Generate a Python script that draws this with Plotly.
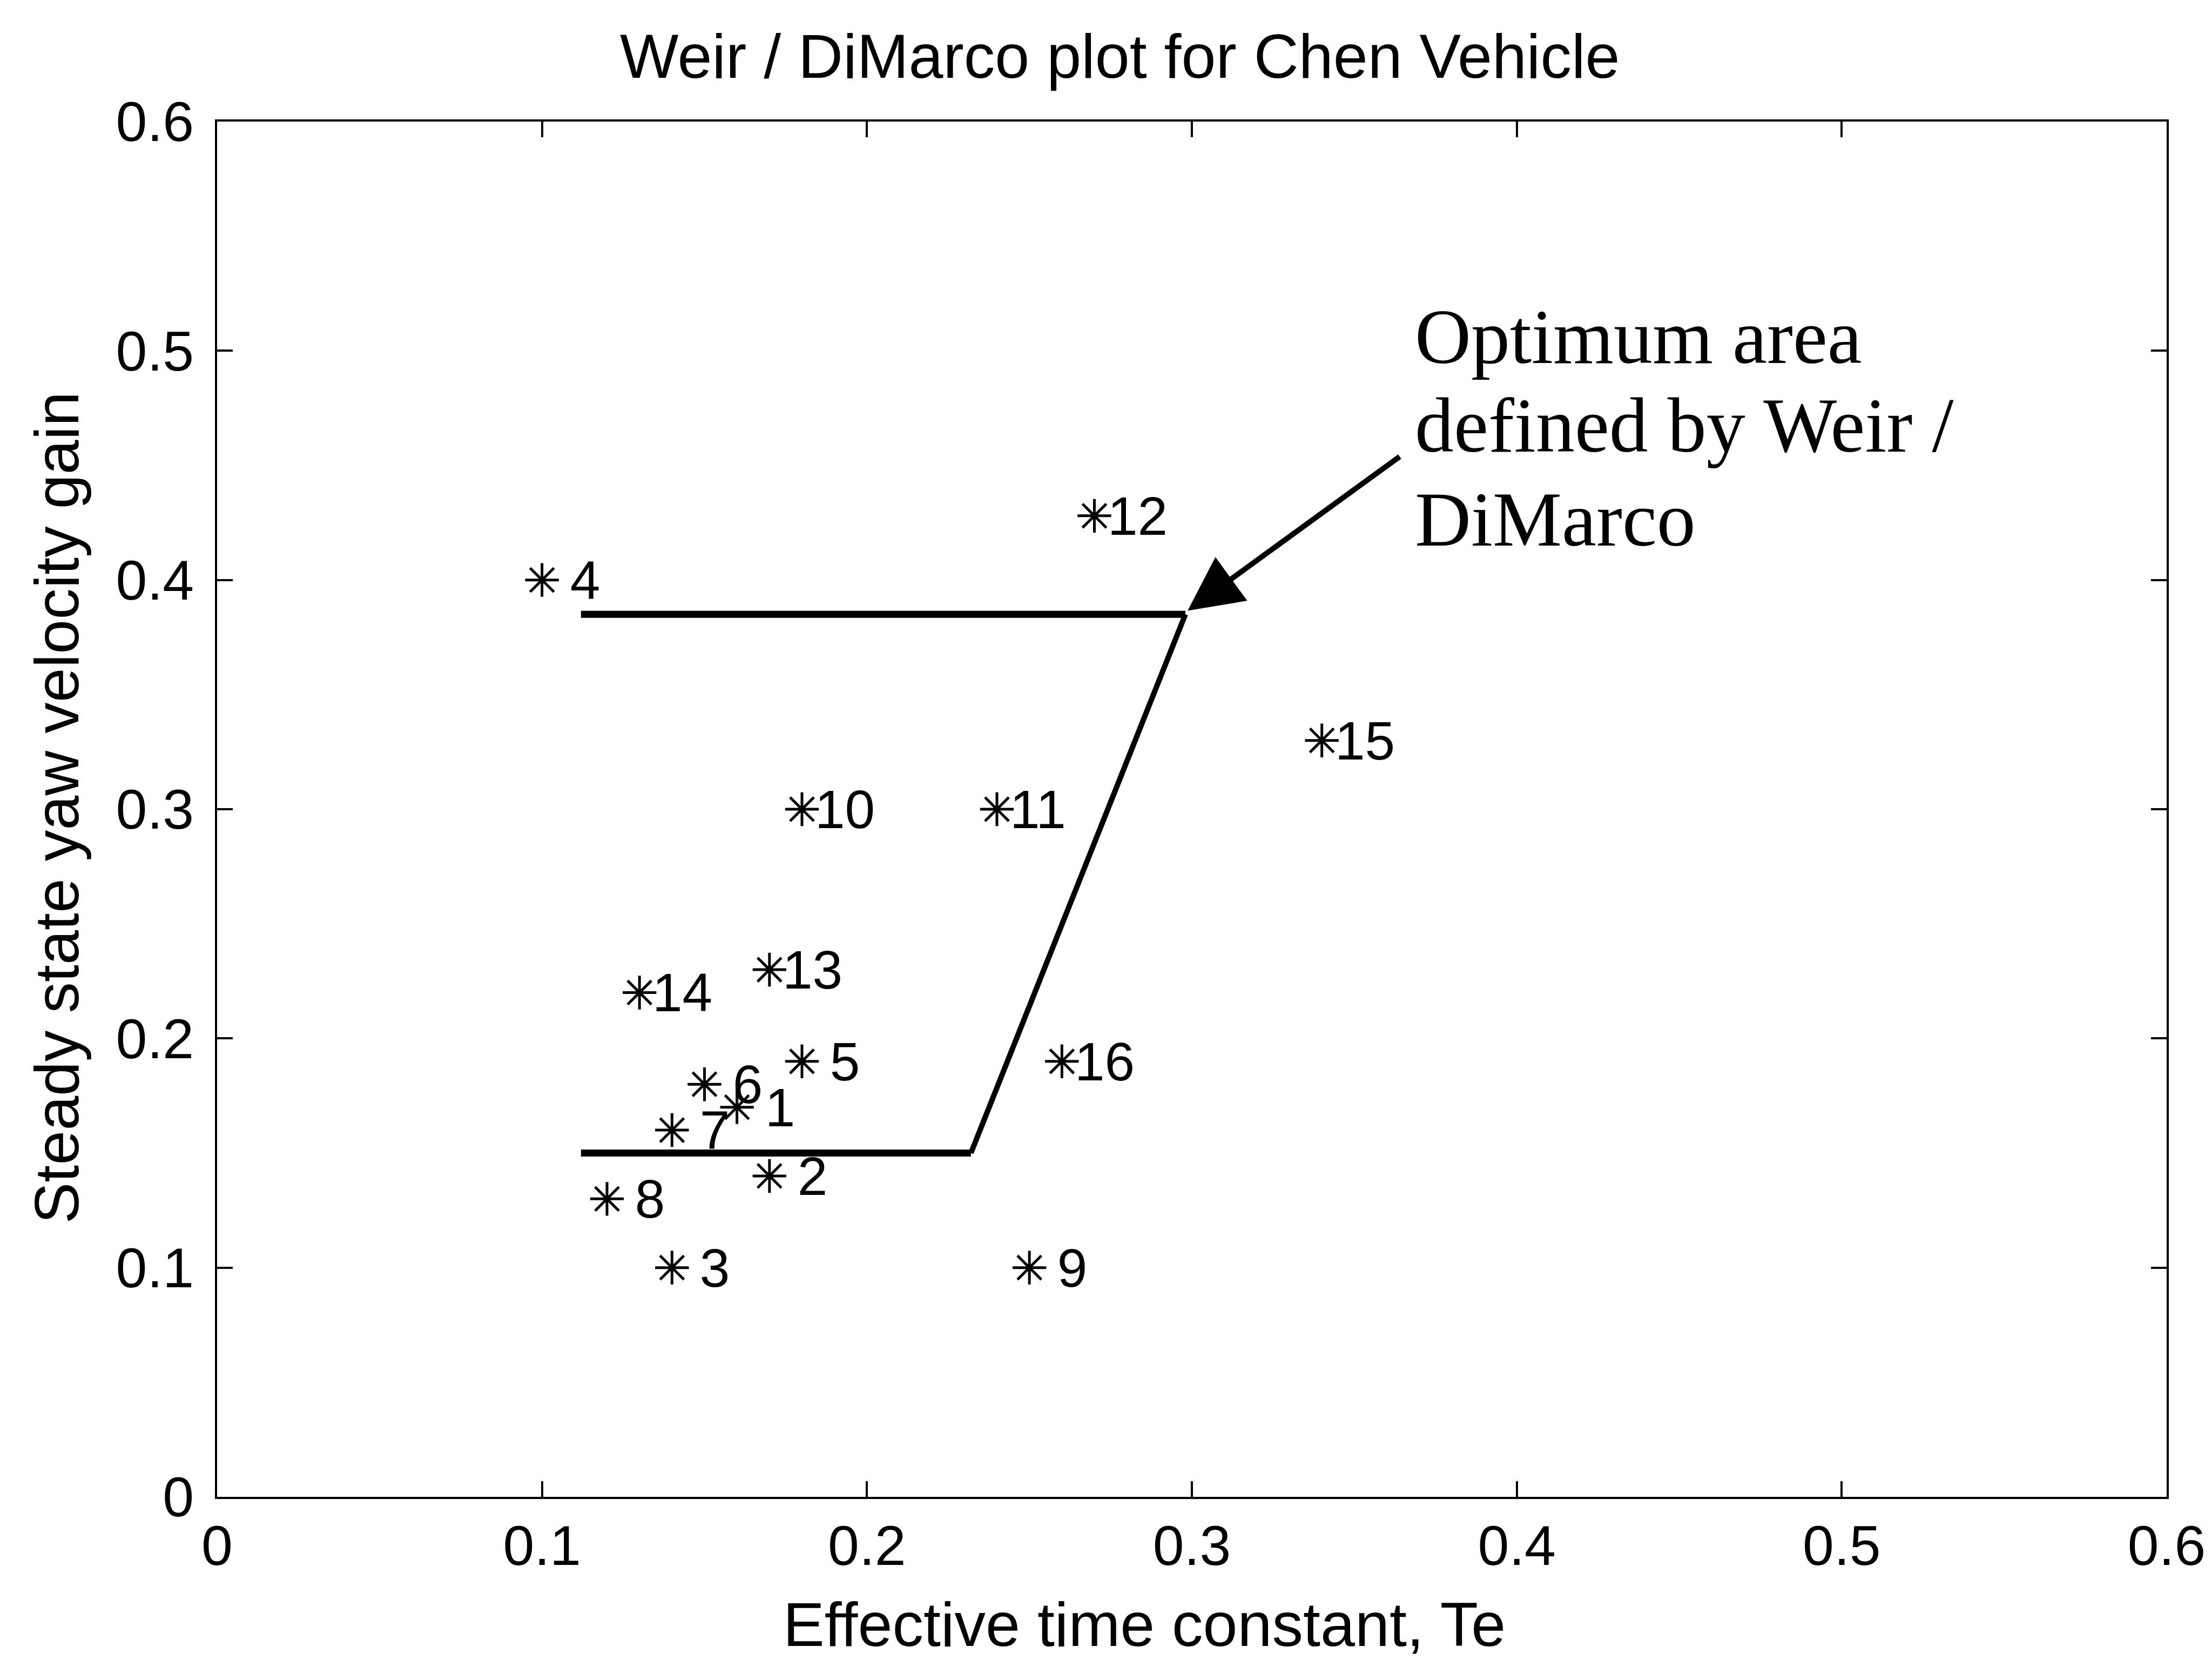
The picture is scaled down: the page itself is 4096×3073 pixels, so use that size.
import plotly.graph_objects as go

# ---------------- data ----------------
vehicle_labels = ['\u00a01', '\u00a02', '\u00a03', '\u00a04', '\u00a05', '\u00a06', '\u00a07', '\u00a08',
                  '\u00a09', '10', '11', '12', '13', '14', '15', '16']
time_constant = [0.16, 0.17, 0.14, 0.10, 0.18, 0.15, 0.14, 0.12,
                 0.25, 0.18, 0.24, 0.27, 0.17, 0.13, 0.34, 0.26]
yaw_gain = [0.17, 0.14, 0.10, 0.40, 0.19, 0.18, 0.16, 0.13,
            0.10, 0.30, 0.30, 0.428, 0.23, 0.22, 0.33, 0.19]

# Weir / DiMarco optimum region boundary (upper edge, slanted edge, lower edge)
boundary_x = [0.112, 0.298, 0.232, 0.112]
boundary_y = [0.385, 0.385, 0.15, 0.15]

# arrow (tail -> tip) and its caption
arrow_tail = (0.3642, 0.4541)
arrow_tip = (0.2987, 0.3866)
caption_lines = ['Optimum area', 'defined by Weir /', 'DiMarco']
caption_x = 0.3683
caption_y = [0.5061, 0.4674, 0.4264]

tick_vals = [0, 0.1, 0.2, 0.3, 0.4, 0.5, 0.6]
tick_text = ['0', '0.1', '0.2', '0.3', '0.4', '0.5', '0.6']

title_text = 'Weir / DiMarco plot for Chen Vehicle'
xlabel_text = 'Effective time constant, Te'
ylabel_text = 'Steady state yaw velocity gain'

# ---------------- figure ----------------
W, H = 4096, 3073
ML, MR, MT, MB = 402, 72, 225, 302
PLOT_H = H - MT - MB
SANS = 'Liberation Sans, Arial, Helvetica, sans-serif'
SERIF = 'Liberation Serif, Times New Roman, serif'


def paper_y(px_from_top):
    return (H - MB - px_from_top) / PLOT_H


fig = go.Figure()

# horizontal edges of the region
fig.add_trace(go.Scatter(
    x=[boundary_x[0], boundary_x[1], None, boundary_x[2], boundary_x[3]],
    y=[boundary_y[0], boundary_y[1], None, boundary_y[2], boundary_y[3]],
    mode='lines', line=dict(color='black', width=13), hoverinfo='skip', showlegend=False))
# slanted edge
fig.add_trace(go.Scatter(
    x=[boundary_x[1], boundary_x[2]], y=[boundary_y[1], boundary_y[2]],
    mode='lines', line=dict(color='black', width=10), hoverinfo='skip', showlegend=False))

# vehicle points
fig.add_trace(go.Scatter(
    x=time_constant, y=yaw_gain, mode='markers',
    marker=dict(symbol='asterisk-open', size=52, color='black',
                line=dict(color='black', width=5)),
    showlegend=False))

annotations = []
for xv, yv, lab in zip(time_constant, yaw_gain, vehicle_labels):
    annotations.append(dict(
        x=xv, y=yv, xref='x', yref='y', text=lab, showarrow=False,
        xanchor='left', yanchor='middle', xshift=22,
        font=dict(family=SANS, size=100, color='black')))

# arrow
annotations.append(dict(
    x=arrow_tip[0], y=arrow_tip[1], ax=arrow_tail[0], ay=arrow_tail[1],
    xref='x', yref='y', axref='x', ayref='y', text='', showarrow=True,
    arrowhead=2, arrowsize=2, arrowwidth=10, arrowcolor='black'))

# caption
for line, yv in zip(caption_lines, caption_y):
    annotations.append(dict(
        x=caption_x, y=yv, xref='x', yref='y', text=line, showarrow=False,
        xanchor='left', yanchor='middle',
        font=dict(family=SERIF, size=144, color='black')))

# title and axis labels
annotations.append(dict(
    x=0.4631, y=paper_y(103.6), xref='paper', yref='paper', text=title_text,
    showarrow=False, xanchor='center', yanchor='middle',
    font=dict(family=SANS, size=115, color='black')))
annotations.append(dict(
    x=0.4755, y=paper_y(3007), xref='paper', yref='paper', text=xlabel_text,
    showarrow=False, xanchor='center', yanchor='middle',
    font=dict(family=SANS, size=115, color='black')))
annotations.append(dict(
    x=-0.0822, y=0.5011, xref='paper', yref='paper', text=ylabel_text,
    showarrow=False, xanchor='center', yanchor='middle', textangle=-90,
    font=dict(family=SANS, size=115, color='black')))

axis_common = dict(
    range=[0, 0.6], tickvals=tick_vals, ticktext=tick_text,
    ticks='inside', ticklen=29, tickwidth=4, tickcolor='black',
    showline=True, linewidth=4, linecolor='black', mirror='ticks',
    showgrid=False, zeroline=False, ticklabeloverflow='allow',
    tickfont=dict(family=SANS, size=104, color='black'))

fig.update_layout(
    width=W, height=H, autosize=False,
    margin=dict(l=ML, r=MR, t=MT, b=MB, pad=0),
    paper_bgcolor='white', plot_bgcolor='white',
    font=dict(family=SANS, color='black'),
    xaxis=dict(**axis_common, ticklabelstandoff=-3),
    yaxis=dict(**axis_common, ticklabelstandoff=18),
    annotations=annotations, showlegend=False)

fig.write_html('out.html')
